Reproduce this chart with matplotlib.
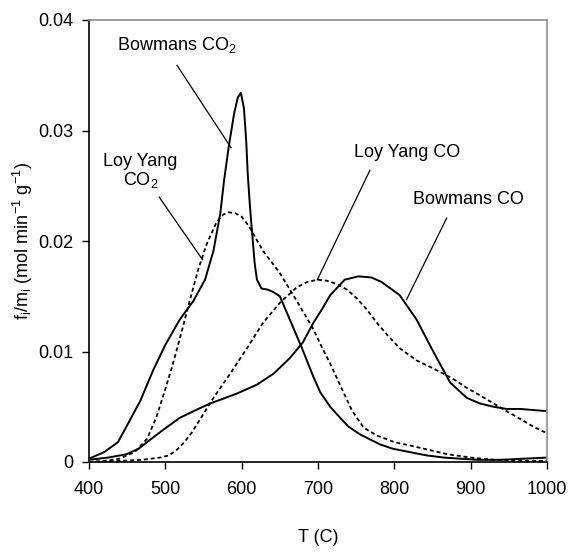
import matplotlib
matplotlib.use("Agg")
import matplotlib.pyplot as plt

plt.rcParams['font.family'] = ['Liberation Sans', 'DejaVu Sans']
plt.rcParams['mathtext.fontset'] = 'custom'
plt.rcParams['mathtext.rm'] = 'Liberation Sans'
plt.rcParams['mathtext.it'] = 'Liberation Sans'

# Bowmans CO2 (solid)
bow_co2_T = [400, 420, 438, 449, 467, 484, 500, 519, 537, 552, 563, 572, 577, 583, 590, 595,
             599, 603, 606, 608, 611, 614, 617, 620, 626, 634, 641, 650, 663, 679, 694, 703,
             716, 729, 740, 755, 781, 798, 820, 842, 865, 886, 910, 940, 970, 1000]
bow_co2 = [0.0003, 0.0009, 0.0018, 0.0032, 0.0055, 0.0083, 0.0106, 0.0129, 0.0146, 0.0165,
           0.0191, 0.0225, 0.0255, 0.0285, 0.0315, 0.0330, 0.0334, 0.0320, 0.0290, 0.0260,
           0.0230, 0.0205, 0.0180, 0.0165, 0.0157, 0.0156, 0.0154, 0.0150, 0.0129, 0.0103,
           0.0077, 0.0063, 0.0050, 0.0040, 0.0032, 0.0025, 0.0016, 0.0012, 0.0009, 0.0006,
           0.0004, 0.0003, 0.0002, 0.0002, 0.0003, 0.0004]

# Loy Yang CO2 (dotted)
ly_co2_T = [400, 420, 440, 460, 476, 488, 500, 510, 521, 532, 543, 554, 567, 576, 583, 592,
            600, 609, 628, 650, 672, 694, 705, 716, 730, 745, 760, 777, 800, 820, 845, 870,
            900, 930, 960, 1000]
ly_co2 = [0.0000, 0.0001, 0.0003, 0.0009, 0.0021, 0.0040, 0.0066, 0.0089, 0.0117, 0.0146,
          0.0174, 0.0197, 0.0217, 0.0224, 0.0226, 0.0225, 0.0222, 0.0214, 0.0191, 0.0171,
          0.0146, 0.0120, 0.0104, 0.0089, 0.0068, 0.0046, 0.0031, 0.0024, 0.0018, 0.0015,
          0.0011, 0.0007, 0.0004, 0.0002, 0.0001, 0.0001]

# Bowmans CO (solid)
bow_co_T = [400, 425, 449, 465, 476, 497, 519, 540, 559, 594, 620, 642, 663, 680, 694, 705,
            716, 735, 753, 770, 783, 807, 829, 851, 873, 895, 912, 930, 947, 965, 1000]
bow_co = [0.0002, 0.0004, 0.0007, 0.0012, 0.0018, 0.0029, 0.0040, 0.0047, 0.0053, 0.0062,
          0.0070, 0.0080, 0.0094, 0.0108, 0.0126, 0.0138, 0.0151, 0.0165, 0.0168, 0.0167,
          0.0163, 0.0151, 0.0129, 0.0100, 0.0072, 0.0058, 0.0053, 0.0050, 0.0048, 0.0048,
          0.0046]

# Loy Yang CO (dotted)
ly_co_T = [400, 440, 470, 493, 505, 515, 525, 535, 545, 563, 585, 607, 628, 650, 672, 686,
           700, 712, 725, 738, 751, 764, 777, 792, 807, 829, 847, 864, 880, 895, 913, 930,
           947, 965, 982, 1000]
ly_co = [0.0000, 0.0001, 0.0002, 0.0004, 0.0006, 0.0011, 0.0018, 0.0027, 0.0038, 0.0058,
         0.0080, 0.0103, 0.0126, 0.0144, 0.0158, 0.0163, 0.0165, 0.0164, 0.0161, 0.0156,
         0.0148, 0.0138, 0.0126, 0.0114, 0.0103, 0.0092, 0.0086, 0.0080, 0.0074, 0.0067,
         0.0060, 0.0053, 0.0046, 0.0039, 0.0032, 0.0026]

x_ticks = [400, 500, 600, 700, 800, 900, 1000]
y_ticks = [0, 0.01, 0.02, 0.03, 0.04]
y_ticklabels = ['0', '0.01', '0.02', '0.03', '0.04']

fig = plt.figure(figsize=(5.69, 5.55), dpi=100)
ax = fig.add_axes([89/569, 1-462/555, (547-89)/569, (462-20)/555])

dot = (0, (2.2, 1.6))
ax.plot(bow_co2_T, bow_co2, color='black', lw=1.4, solid_joinstyle='round')
ax.plot(ly_co2_T, ly_co2, color='black', lw=1.3, linestyle=dot)
ax.plot(bow_co_T, bow_co, color='black', lw=1.4, solid_joinstyle='round')
ax.plot(ly_co_T, ly_co, color='black', lw=1.3, linestyle=dot)

ax.set_xlim(400, 1000)
ax.set_ylim(0, 0.04)
ax.set_xticks(x_ticks)
ax.set_yticks(y_ticks)
ax.set_yticklabels(y_ticklabels)
ax.tick_params(axis='both', direction='out', labelsize=13, width=1, colors='black')
ax.tick_params(axis='y', length=5, pad=6)
ax.tick_params(axis='x', length=5, pad=9)

for s in ['top', 'right']:
    ax.spines[s].set_color('#8c8c8c')
    ax.spines[s].set_linewidth(1.2)
for s in ['left', 'bottom']:
    ax.spines[s].set_color('black')
    ax.spines[s].set_linewidth(1.2)

ax.set_xlabel('T (C)', fontsize=13)
ax.xaxis.set_label_coords(0.5, -0.152)
ax.set_ylabel(r'f$_\mathregular{i}$/m$_\mathregular{i}$ (mol min$^\mathregular{-1}$ g$^\mathregular{-1}$)', fontsize=13)
ax.yaxis.set_label_coords(-0.117, 0.5)

fs = 13
ax.text(515, 0.0377, r'Bowmans CO$_\mathregular{2}$', fontsize=fs, ha='center', va='center')
ax.plot([515.3, 586], [0.0359, 0.02845], color='black', lw=0.9)

ax.text(467.4, 0.0272, 'Loy Yang', fontsize=fs, ha='center', va='center')
ax.text(467.4, 0.0255, r'CO$_\mathregular{2}$', fontsize=fs, ha='center', va='center')
ax.plot([492, 548.8], [0.02397, 0.0183], color='black', lw=0.9)

ax.text(817, 0.0280, 'Loy Yang CO', fontsize=fs, ha='center', va='center')
ax.plot([768, 699], [0.0264, 0.01648], color='black', lw=0.9)

ax.text(897, 0.0238, 'Bowmans CO', fontsize=fs, ha='center', va='center')
ax.plot([868.5, 816], [0.02207, 0.0147], color='black', lw=0.9)

fig.savefig('out.png', dpi=100)
